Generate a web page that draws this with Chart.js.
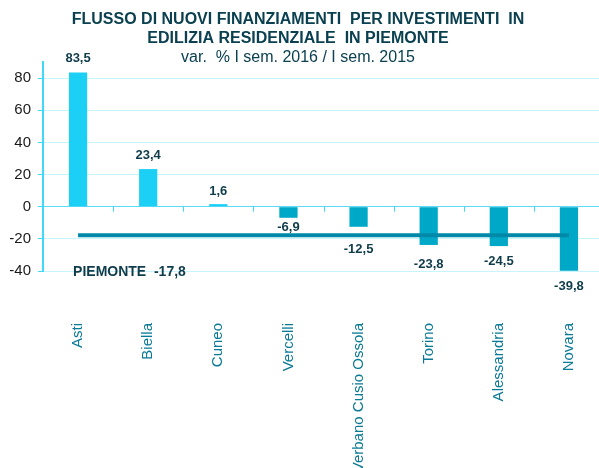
<!DOCTYPE html>
<html>
<head>
<meta charset="utf-8">
<script src="https://cdn.jsdelivr.net/npm/chart.js@4/dist/chart.umd.min.js"></script>
<style>
html,body{margin:0;padding:0;background:#fff;overflow:hidden;width:599px;height:468px;}
#wrap{position:relative;width:604px;height:468px;}
</style>
</head>
<body>
<div id="wrap"><canvas id="c" width="604" height="468"></canvas></div>
<script>
const categories = ["Asti","Biella","Cuneo","Vercelli","Verbano Cusio Ossola","Torino","Alessandria","Novara"];
const values = [83.5, 23.4, 1.6, -6.9, -12.5, -23.8, -24.5, -39.8];
const piemonteAvg = -17.8;
const yTicks = [-40, -20, 0, 20, 40, 60, 80];
const titleLines = ["FLUSSO DI NUOVI FINANZIAMENTI  PER INVESTIMENTI  IN", "EDILIZIA RESIDENZIALE  IN PIEMONTE"];
const subtitleText = "var.  % I sem. 2016 / I sem. 2015";
const avgLabel = "PIEMONTE  -17,8";
// label placement style: pixel distance from bar end to label centre
const labelGap = [15, 15, 14, 9, 22, 18, 14, 15];

const POS = '#1ccff5', NEG = '#00a8c8', LINE = '#0088a8';
const AXIS = '#40d8f8', GRID = '#c8f4fe', ZERO = '#5cdcf8';
const TXT = '#0f3c4a';
const FONT = '"Liberation Sans", Arial, sans-serif';

function fmt(v){ return v.toFixed(1).replace('.', ','); }

const overlay = {
  id: 'overlay',
  afterDatasetsDraw(chart){
    const ctx = chart.ctx;
    const xs = chart.scales.x, ys = chart.scales.y;
    const y0 = ys.getPixelForValue(0);
    ctx.save();
    ctx.strokeStyle = AXIS; ctx.lineWidth = 1;
    for (let i = 1; i < categories.length; i++) {
      const x = Math.round((xs.getPixelForValue(i-1) + xs.getPixelForValue(i)) / 2) + 0.5;
      ctx.beginPath(); ctx.moveTo(x, y0); ctx.lineTo(x, y0 + 5); ctx.stroke();
    }
    ctx.fillStyle = TXT;
    ctx.font = 'bold 13px ' + FONT;
    ctx.textAlign = 'center';
    ctx.textBaseline = 'middle';
    const meta = chart.getDatasetMeta(0);
    meta.data.forEach((bar, i) => {
      const v = values[i];
      const y = v >= 0 ? bar.y - labelGap[i] : bar.y + labelGap[i];
      ctx.fillText(fmt(v), bar.x, y + 1);
    });
    ctx.font = 'bold 14px ' + FONT;
    ctx.textAlign = 'left'; ctx.textBaseline = 'middle';
    ctx.fillText(avgLabel, xs.getPixelForValue(0) - 5, ys.getPixelForValue(-40) + 1);
    ctx.textAlign = 'center'; ctx.textBaseline = 'middle';
    ctx.fillStyle = '#0a4050';
    ctx.font = 'bold 16px ' + FONT;
    ctx.fillText(titleLines[0], 298, 20);
    ctx.fillText(titleLines[1], 298, 39);
    ctx.font = '16px ' + FONT;
    ctx.fillText(subtitleText, 298, 58);
    ctx.restore();
  }
};

new Chart(document.getElementById('c'), {
  data: {
    labels: categories,
    datasets: [
      { type: 'bar', data: values, order: 1,
        backgroundColor: values.map(v => v >= 0 ? POS : NEG),
        barPercentage: 0.26, categoryPercentage: 1.0 },
      { type: 'line', data: categories.map(() => piemonteAvg), order: 0,
        borderColor: LINE, borderWidth: 4, pointRadius: 0, fill: false, tension: 0 }
    ]
  },
  options: {
    responsive: false, animation: false,
    devicePixelRatio: 1,
    layout: { padding: { top: 62, right: 0, left: 0, bottom: 0 } },
    plugins: { legend: { display: false }, tooltip: { enabled: false }, title: { display: false } },
    scales: {
      x: {
        grid: { display: false, drawTicks: false },
        border: { display: false },
        ticks: { autoSkip: false, minRotation: 90, maxRotation: 90, padding: 52,
                 color: '#0a7a96', font: { family: FONT, size: 15 } },
        afterFit(s){ s.height = 197; s.paddingLeft = 0; s.paddingRight = 0; }
      },
      y: {
        min: -40, max: 90,
        afterBuildTicks(s){ s.ticks = yTicks.map(v => ({ value: v })); },
        ticks: { stepSize: 20, includeBounds: false, color: '#1a1a1a', padding: 7,
                 font: { family: FONT, size: 15 } },
        grid: { color: c => (c.tick && c.tick.value === 0) ? ZERO : GRID,
                tickColor: AXIS, tickLength: 5, lineWidth: 1 },
        border: { color: AXIS, width: 2 },
        afterFit(s){ s.width = 43; s.paddingTop = 0; s.paddingBottom = 0; }
      }
    }
  },
  plugins: [overlay]
});
</script>
</body>
</html>
